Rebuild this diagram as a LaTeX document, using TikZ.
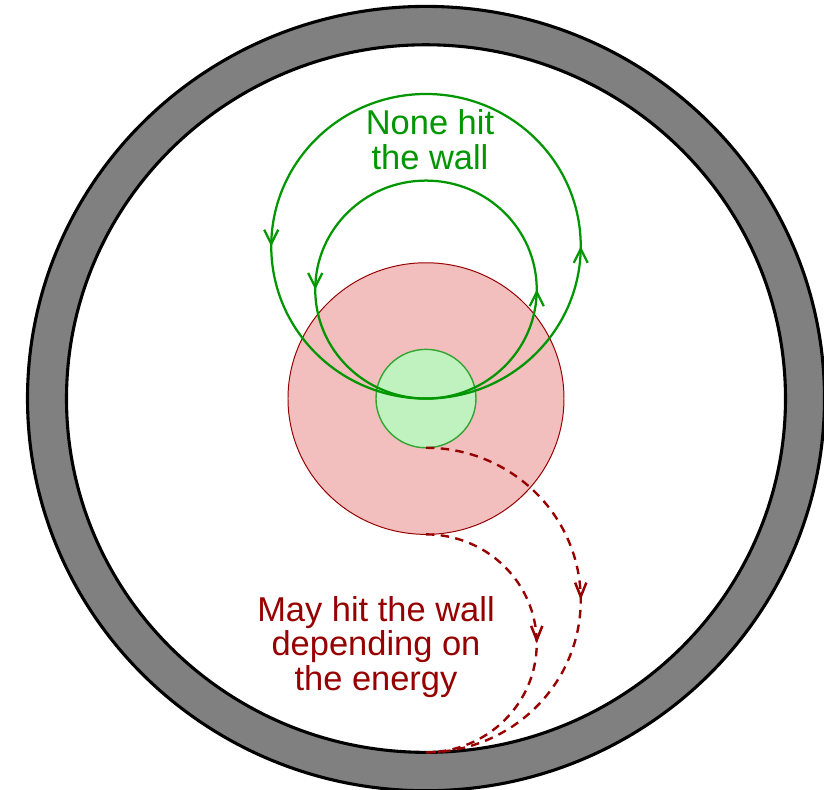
\documentclass[tikz,border=0pt]{standalone}
\usepackage{fontspec}
\setmainfont{Liberation Sans}
\usepackage{tikz}
\usetikzlibrary{arrows.meta,decorations.markings}
\definecolor{wallGray}{RGB}{128,128,128}
\definecolor{orbGreen}{RGB}{0,150,0}
\definecolor{orbRed}{RGB}{150,0,0}
\definecolor{coreGreen}{RGB}{192,242,192}
\definecolor{coreEdge}{RGB}{50,165,50}
\definecolor{beamRed}{RGB}{242,190,190}

\begin{document}
\begin{tikzpicture}[x=0.025cm,y=0.0246cm,
  greenorbit/.style={line width=1.6pt,orbGreen,postaction={decorate},
    decoration={markings,
      mark=at position 0.25 with {\arrow{Straight Barb[length=10pt,width=10pt,line width=1.6pt]}},
      mark=at position 0.75 with {\arrow{Straight Barb[length=10pt,width=10pt,line width=1.6pt]}}}},
  redorbit/.style={line width=1.7pt,orbRed,dash pattern=on 6pt off 4.5pt,
    postaction={decorate},
    decoration={markings,
      mark=at position 0.5 with {\arrow{Straight Barb[length=10pt,width=8pt,line width=1.8pt]}}}},
  label/.style={align=center,font=\fontsize{24.5}{24.8}\selectfont}]

\useasboundingbox (-426,-396.8) rectangle (398,405);
\coordinate (ctr) at (0,0);

%─── Wall ────────────────────────────────────────────────────────────────────
\fill[wallGray,even odd rule] (ctr) circle[radius=398.5] (ctr) circle[radius=359.5];
\draw[line width=2.2pt] (ctr) circle[radius=398.5];
\draw[line width=2.2pt] (ctr) circle[radius=359.5];

%─── Beam and core ───────────────────────────────────────────────────────────
\filldraw[fill=beamRed,draw=orbRed,line width=0.7pt] (ctr) circle[radius=138];
\filldraw[fill=coreGreen,draw=coreEdge,line width=1pt] (ctr) circle[radius=50];

%─── Confined orbits ─────────────────────────────────────────────────────────
\draw[greenorbit] (ctr) arc[start angle=-90,end angle=270,radius=154.75];
\draw[greenorbit] (ctr) arc[start angle=-90,end angle=270,radius=110.75];

%─── Orbits reaching the wall ────────────────────────────────────────────────
\draw[redorbit] (0,-50) arc[start angle=90,end angle=-90,radius=154.75];
\draw[redorbit] (0,-138) arc[start angle=90,end angle=-90,radius=110.75];

%─── Labels ──────────────────────────────────────────────────────────────────
\node[label,orbGreen] (nonehit) at (4,263) {None hit\\the wall};
\node[label,orbRed] (mayhit) at (-50,-252.5) {May hit the wall\\depending on\\the energy};

\end{tikzpicture}
\end{document}
